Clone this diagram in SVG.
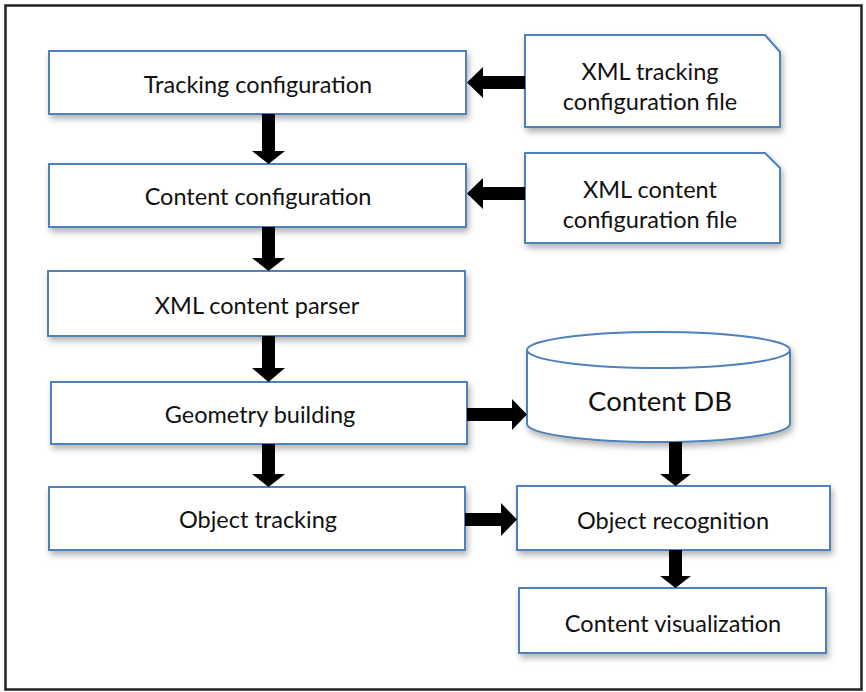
<svg xmlns="http://www.w3.org/2000/svg" width="866" height="692" viewBox="0 0 866 692">
<defs>
<filter id="sh" x="-10%" y="-20%" width="125%" height="150%">
<feDropShadow dx="2" dy="4" stdDeviation="3" flood-color="#000" flood-opacity="0.3"/>
</filter>
<style>
.box{fill:#fff;stroke:#4f81bd;stroke-width:2;filter:url(#sh)}
.t{font-family:Lato,"Open Sans",sans-serif;font-size:23.5px;fill:#111;text-anchor:middle}
.big{font-size:27.5px}
.arr{fill:#000}
</style>
</defs>
<rect x="0" y="0" width="866" height="692" fill="#fff"/>
<rect x="5.5" y="5.5" width="856" height="684" fill="#fff" stroke="#222" stroke-width="2.5"/>

<g id="tracking-configuration">
<rect class="box" x="49" y="51" width="417" height="63"/>
<text class="t" x="258" y="93">Tracking configuration</text>
</g>
<g id="content-configuration">
<rect class="box" x="49" y="164" width="417" height="63"/>
<text class="t" x="258" y="205">Content configuration</text>
</g>
<g id="xml-content-parser">
<rect class="box" x="48" y="271" width="417" height="65"/>
<text class="t" x="257" y="314">XML content parser</text>
</g>
<g id="geometry-building">
<rect class="box" x="51" y="382" width="416" height="62"/>
<text class="t" x="260" y="423">Geometry building</text>
</g>
<g id="object-tracking">
<rect class="box" x="49" y="487" width="416" height="63"/>
<text class="t" x="258" y="528">Object tracking</text>
</g>

<g id="xml-tracking-file">
<path class="box" d="M525 35 H765 L780 52 V127 H525 Z"/>
<text class="t" x="650" y="80">XML tracking</text>
<text class="t" x="650" y="110">configuration file</text>
</g>
<g id="xml-content-file">
<path class="box" d="M525 153 H765 L780 168 V243 H525 Z"/>
<text class="t" x="650" y="198">XML content</text>
<text class="t" x="650" y="228">configuration file</text>
</g>
<g id="content-db">
<path class="box" d="M527 350 A131.5 18 0 0 1 790 350 V424 A131.5 18 0 0 1 527 424 Z"/>
<path d="M527 350 A131.5 18 0 0 0 790 350" fill="none" stroke="#4f81bd" stroke-width="2"/>
<text class="t big" x="660" y="411">Content DB</text>
</g>
<g id="object-recognition">
<rect class="box" x="517" y="486" width="313" height="64"/>
<text class="t" x="673" y="529">Object recognition</text>
</g>
<g id="content-visualization">
<rect class="box" x="519" y="588" width="307" height="65"/>
<text class="t" x="673" y="632">Content visualization</text>
</g>

<g id="connectors">
<path class="arr" d="M262 114 H275 V151 H285 L268.5 164 L252 151 H262 Z"/>
<path class="arr" d="M262 227 H275 V258 H285 L268.5 271 L252 258 H262 Z"/>
<path class="arr" d="M262 336 H275 V368 H285 L268.5 382 L252 368 H262 Z"/>
<path class="arr" d="M262 444 H275 V474 H285 L268.5 487 L252 474 H262 Z"/>
<path class="arr" d="M525 76 V89 H483 V98 L467 82.5 L483 67 V76 Z"/>
<path class="arr" d="M525 187 V200 H483 V209 L467 193.5 L483 178 V187 Z"/>
<path class="arr" d="M467 408 V421 H512 V430 L527 414.5 L512 399 V408 Z"/>
<path class="arr" d="M465 513 V526 H501 V536 L517 519.5 L501 503 V513 Z"/>
<path class="arr" d="M669 442 H682 V474 H691 L675.5 486 L660 474 H669 Z"/>
<path class="arr" d="M669 550 H682 V576 H691 L675.5 588 L660 576 H669 Z"/>
</g>
</svg>
